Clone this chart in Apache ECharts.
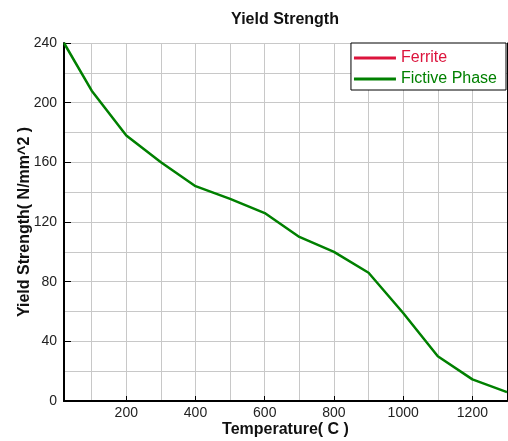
<!DOCTYPE html>
<html><head><meta charset="utf-8">
<script src="https://cdn.jsdelivr.net/npm/echarts@6/dist/echarts.min.js"></script>
<style>html,body{margin:0;padding:0;background:#fff}#c{width:508px;height:441px}</style>
</head><body><div id="c"></div>
<script>
const temperatures = [20, 100, 200, 300, 400, 500, 600, 700, 800, 900, 1000, 1100, 1200, 1300];
const fictivePhase = [240, 208, 178, 160, 144, 135.5, 126, 110, 100, 86, 59, 30, 14.5, 6];
const ferrite = [];
const xTickLabels = [200, 400, 600, 800, 1000, 1200];
const yTickLabels = [0, 40, 80, 120, 160, 200, 240];

const FONT = 'Liberation Sans, Arial, sans-serif';
const chart = echarts.init(document.getElementById('c'), null, {renderer: 'canvas'});
chart.setOption({
  animation: false,
  backgroundColor: '#fff',
  graphic: [{
    type: 'text', x: 285, y: 20,
    style: {text: 'Yield Strength', font: 'bold 16px ' + FONT, fill: '#111', align: 'center', verticalAlign: 'middle'}
  }],
  grid: {left: 64, right: 1, top: 43, bottom: 40, outerBoundsMode: 'none', containLabel: false},
  legend: {
    orient: 'vertical', right: 2, top: 43,
    backgroundColor: '#fff', borderColor: '#000', borderWidth: 1,
    padding: [7, 9, 3, 3], itemGap: 5, itemWidth: 42, itemHeight: 3, icon: 'rect',
    textStyle: {fontSize: 16, fontFamily: FONT},
    data: [
      {name: 'Ferrite', textStyle: {color: '#dc143c'}},
      {name: 'Fictive Phase', textStyle: {color: '#008000'}}
    ]
  },
  xAxis: [{
    type: 'value', position: 'bottom', min: 20, max: 1300,
    minInterval: 200, maxInterval: 200,
    name: 'Temperature( C )', nameLocation: 'middle', nameGap: 21, nameMoveOverlap: false,
    nameTextStyle: {fontSize: 16, fontWeight: 'bold', fontFamily: FONT, color: '#111'},
    axisLine: {show: true, lineStyle: {color: '#000', width: 2}},
    axisTick: {show: true, inside: true, length: 5, lineStyle: {color: '#000', width: 1}},
    axisLabel: {fontSize: 14, fontFamily: FONT, color: '#222', margin: 5,
      formatter: v => xTickLabels.includes(v) ? String(v) : ''},
    splitLine: {show: false}
  }, {
    type: 'value', position: 'top', min: 20, max: 1300,
    minInterval: 100, maxInterval: 100,
    axisLine: {show: true, lineStyle: {color: '#000', width: 1}},
    axisTick: {show: false}, axisLabel: {show: false},
    splitLine: {show: true, lineStyle: {color: '#c8c8c8', width: 1}}
  }],
  yAxis: [{
    type: 'value', position: 'left', min: 0, max: 240, interval: 40,
    name: 'Yield Strength( N/mm^2 )', nameLocation: 'middle', nameGap: 31, nameMoveOverlap: false,
    nameTextStyle: {fontSize: 16, fontWeight: 'bold', fontFamily: FONT, color: '#111'},
    axisLine: {show: true, lineStyle: {color: '#000', width: 2}},
    axisTick: {show: true, inside: true, length: 7, lineStyle: {color: '#000', width: 1}},
    axisLabel: {fontSize: 14, fontFamily: FONT, color: '#222', margin: 7,
      formatter: v => yTickLabels.includes(v) ? String(v) : ''},
    splitLine: {show: false}
  }, {
    type: 'value', position: 'right', min: 0, max: 240, interval: 20,
    axisLine: {show: true, lineStyle: {color: '#000', width: 1}},
    axisTick: {show: false}, axisLabel: {show: false},
    splitLine: {show: true, lineStyle: {color: '#c8c8c8', width: 1}}
  }],
  series: [{
    name: 'Ferrite', type: 'line', symbol: 'none', xAxisIndex: 0, yAxisIndex: 0,
    lineStyle: {color: '#dc143c', width: 2.5}, itemStyle: {color: '#dc143c'},
    data: ferrite.map((v, i) => [temperatures[i], v])
  }, {
    name: 'Fictive Phase', type: 'line', symbol: 'none', xAxisIndex: 0, yAxisIndex: 0,
    lineStyle: {color: '#008000', width: 2.5}, itemStyle: {color: '#008000'},
    data: fictivePhase.map((v, i) => [temperatures[i], v])
  }]
});
</script></body></html>
